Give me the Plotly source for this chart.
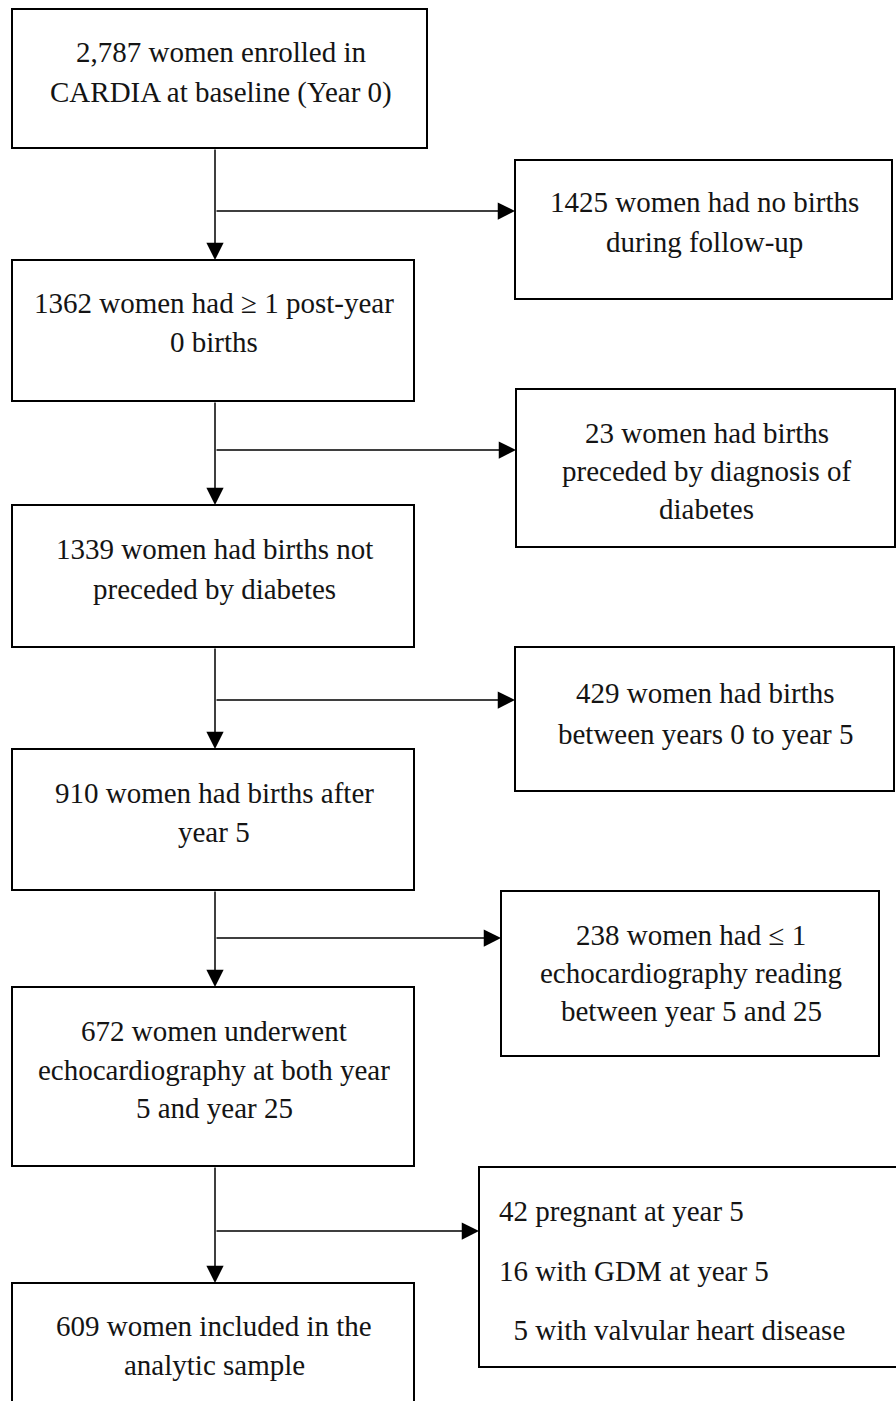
import plotly.graph_objects as go

# ---- content ----
main_texts = [
    ["2,787 women enrolled in", "CARDIA at baseline (Year 0)"],
    ["1362 women had \u2265 1 post-year", "0 births"],
    ["1339 women had births not", "preceded by diabetes"],
    ["910 women had births after", "year 5"],
    ["672 women underwent", "echocardiography at both year", "5 and year 25"],
    ["609 women included in the", "analytic sample"],
]
side_texts = [
    ["1425 women had no births", "during follow-up"],
    ["23 women had births", "preceded by diagnosis of", "diabetes"],
    ["429 women had births", "between years 0 to year 5"],
    ["238 women had \u2264 1", "echocardiography reading", "between year 5 and 25"],
    ["42 pregnant at year 5", "16 with GDM at year 5", "  5 with valvular heart disease"],
]

# ---- layout geometry (pixels, y downward) ----
main_boxes = [(12, 427, 9, 148), (12, 414, 260, 401), (12, 414, 505, 647),
              (12, 414, 749, 890), (12, 414, 987, 1166), (12, 414, 1283, 1420)]
main_line_y = [[52, 92], [303, 342], [549, 589], [793, 832], [1031, 1070, 1108], [1326, 1365]]
side_boxes = [(515, 892, 160, 299), (516, 895, 389, 547), (515, 894, 647, 791),
              (501, 879, 891, 1056), (479, 900, 1167, 1367)]
side_line_y = [[202, 242], [433, 471, 509], [693, 734], [935, 973, 1011], [1211, 1271, 1330]]
branch_y = [211, 450, 700, 938, 1231]
trunk_x = 215

W, H = 896, 1401
FONT = dict(family="Liberation Serif", size=29, color="#141414")

fig = go.Figure()
shapes = []
annotations = []

for (x0, x1, y0, y1) in main_boxes + side_boxes:
    shapes.append(dict(type="rect", xref="x", yref="y", x0=x0, x1=x1, y0=y0, y1=y1,
                       line=dict(color="black", width=2), fillcolor="rgba(0,0,0,0)"))

for (x0, x1, y0, y1), lines, ys in zip(main_boxes, main_texts, main_line_y):
    for t, y in zip(lines, ys):
        annotations.append(dict(x=(x0 + x1) / 2 + 1, y=y, xref="x", yref="y", text=t,
                                showarrow=False, font=FONT, xanchor="center", yanchor="middle"))

for i, ((x0, x1, y0, y1), lines, ys) in enumerate(zip(side_boxes, side_texts, side_line_y)):
    for t, y in zip(lines, ys):
        if i == 4:
            annotations.append(dict(x=x0 + 18, y=y, xref="x", yref="y", text=t.replace(" ", "\u00a0"),
                                    showarrow=False, font=FONT, xanchor="left", yanchor="middle"))
        else:
            annotations.append(dict(x=(x0 + x1) / 2 + 1, y=y, xref="x", yref="y", text=t,
                                    showarrow=False, font=FONT, xanchor="center", yanchor="middle"))

ARROW = dict(showarrow=True, arrowhead=2, arrowsize=2.3, arrowwidth=1.5, arrowcolor="black",
             xref="x", yref="y", axref="x", ayref="y", text="", standoff=0, startstandoff=0)

for k in range(5):
    top = main_boxes[k][3]
    nxt = main_boxes[k + 1][2]
    annotations.append(dict(x=trunk_x, y=nxt, ax=trunk_x, ay=top, **ARROW))
    annotations.append(dict(x=side_boxes[k][0], y=branch_y[k], ax=trunk_x, ay=branch_y[k], **ARROW))

fig.update_layout(
    width=W, height=H, margin=dict(l=0, r=0, t=0, b=0),
    paper_bgcolor="white", plot_bgcolor="white",
    xaxis=dict(range=[0, W], visible=False, fixedrange=True),
    yaxis=dict(range=[H, 0], visible=False, fixedrange=True),
    shapes=shapes, annotations=annotations, showlegend=False,
)
fig.write_html(
    "out.html",
    config={"displayModeBar": False, "staticPlot": True},
    post_script="document.body.style.margin='0';document.body.style.overflow='hidden';"
                "document.documentElement.style.overflow='hidden';",
)
